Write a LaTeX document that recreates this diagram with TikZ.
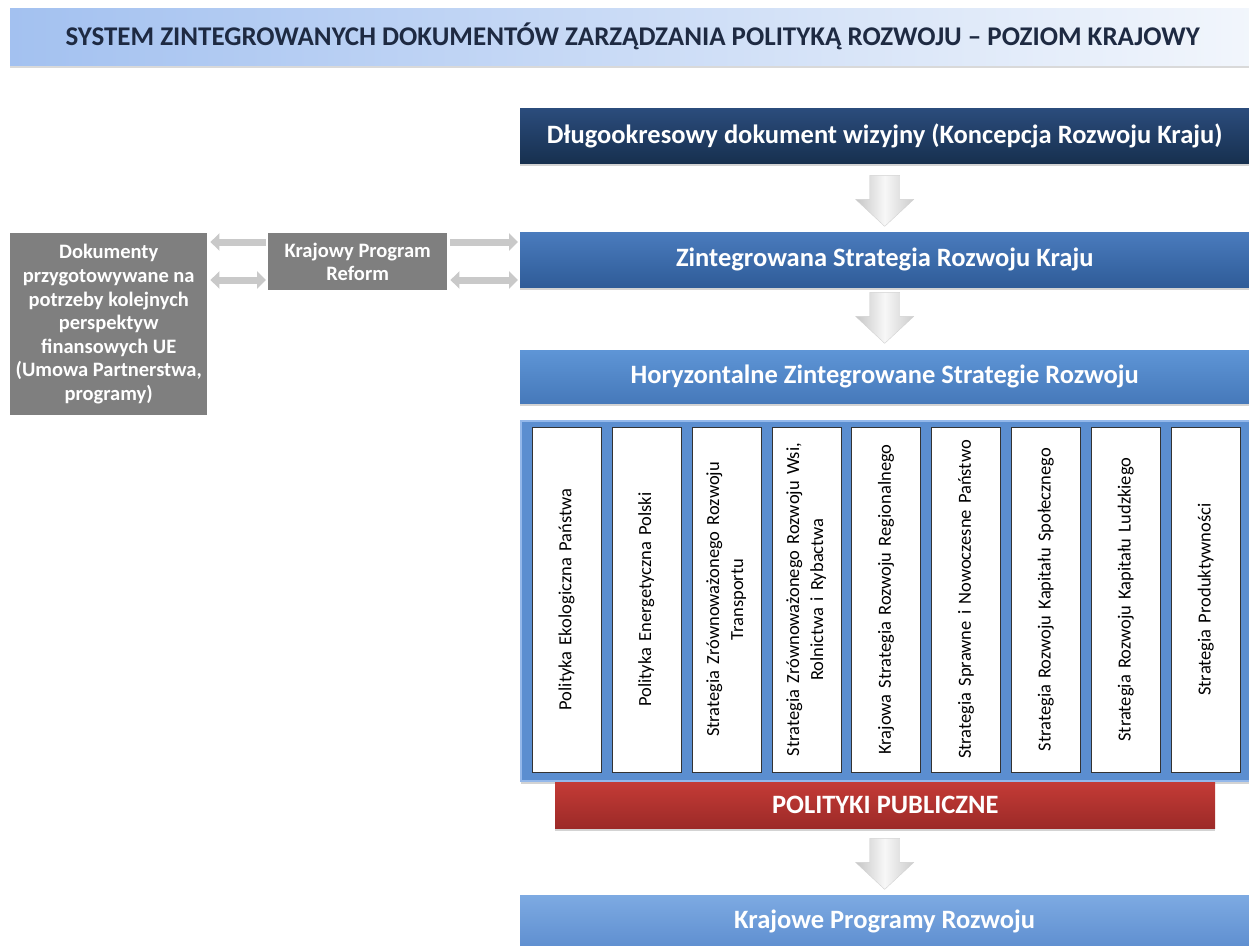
\documentclass[tikz,border=0pt]{standalone}
\usepackage{fontspec}
\setmainfont{Carlito}
\usetikzlibrary{shadows,arrows.meta}

\definecolor{titleblue}{HTML}{A3C1F0}
\definecolor{titlewhite}{HTML}{F2F6FC}
\definecolor{titletext}{HTML}{1E2A42}
\definecolor{navytop}{HTML}{2B4C7C}
\definecolor{navybot}{HTML}{17304F}
\definecolor{midtop}{HTML}{4A7BBD}
\definecolor{midbot}{HTML}{2F5C98}
\definecolor{lighttop}{HTML}{5E95D6}
\definecolor{lightbot}{HTML}{4679BA}
\definecolor{palettop}{HTML}{7DAAE2}
\definecolor{palebot}{HTML}{5F8FD0}
\definecolor{panelblue}{HTML}{5B8ED0}
\definecolor{panelrim}{HTML}{94B8EA}
\definecolor{redtop}{HTML}{C43B36}
\definecolor{redbot}{HTML}{9C2A28}
\definecolor{boxgrey}{HTML}{7F7F7F}
\definecolor{arrowgrey}{HTML}{C9C9C9}

\begin{document}
\begin{tikzpicture}[x=1pt, y=-1pt]
\tikzset{band/.style={anchor=north west, minimum width=729pt, minimum height=55pt, inner sep=0pt,
  text=white, font=\fontsize{26.5}{30}\selectfont\bfseries,
  drop shadow={opacity=.35, shadow xshift=0pt, shadow yshift=-3pt}}}
\tikzset{greybox/.style={anchor=north west, fill=boxgrey, text=white, align=center, inner sep=0pt,
  font=\fontsize{20.5}{23.6}\selectfont\bfseries}}
\tikzset{flowarrow/.pic={
  \path[draw=gray!35, line width=.4pt, left color=gray!45, right color=gray!40, middle color=gray!6]
    (-15,0) -- (15,0) -- (15,24) -- (29,24) -- (0,51) -- (-29,24) -- (-15,24) -- cycle;}}
\tikzset{sidearrow/.style={draw=arrowgrey, line width=7pt, >={Triangle[length=9pt, width=17pt]},
  shorten <=3pt, shorten >=2pt}}
\tikzset{column/.style={rotate=90, draw=black!80, fill=white, minimum width=345pt, minimum height=69pt,
  inner sep=0pt, align=center, text width=340pt, font=\fontsize{18.5}{24}\selectfont}}

\useasboundingbox (0,0) rectangle (1249,945);

% naglowek
\node[anchor=north west, minimum width=1245pt, minimum height=57pt, left color=titleblue, right color=titlewhite,
  text=titletext, font=\fontsize{27}{31}\selectfont\bfseries,
  drop shadow={opacity=.3, shadow xshift=0pt, shadow yshift=-3pt}] (title) at (10,8)
  {SYSTEM ZINTEGROWANYCH DOKUMENTÓW ZARZĄDZANIA POLITYKĄ ROZWOJU – POZIOM KRAJOWY};

% glowny ciag
\node[band, top color=navytop, bottom color=navybot] (dlugo) at (520,108)
  {Długookresowy dokument wizyjny (Koncepcja Rozwoju Kraju)};
\node[band, top color=midtop, bottom color=midbot] (zsrk) at (520,232)
  {Zintegrowana Strategia Rozwoju Kraju};
\node[band, minimum height=53pt, top color=lighttop, bottom color=lightbot] (horyz) at (520,350)
  {Horyzontalne Zintegrowane Strategie Rozwoju};
\pic at ([yshift=-12pt]dlugo.south) {flowarrow};
\pic at ([yshift=-5pt]zsrk.south) {flowarrow};

% strategie
\node[anchor=north west, fill=panelblue, draw=panelrim, line width=2pt, minimum width=729pt,
  minimum height=360pt, inner sep=0pt,
  drop shadow={opacity=.35, shadow xshift=0pt, shadow yshift=-3pt}] (panel) at (520,420) {};
\foreach \i/\txt in {1/{Polityka Ekologiczna Państwa},
                     2/{Polityka Energetyczna Polski},
                     3/{Strategia Zrównoważonego Rozwoju\\Transportu},
                     4/{Strategia Zrównoważonego Rozwoju Wsi,\\Rolnictwa i Rybactwa},
                     5/{Krajowa Strategia Rozwoju Regionalnego},
                     6/{Strategia Sprawne i Nowoczesne Państwo},
                     7/{Strategia Rozwoju Kapitału Społecznego},
                     8/{Strategia Rozwoju Kapitału Ludzkiego},
                     9/{Strategia Produktywności}}
  \node[column] (col\i) at ({566.5+79.9*(\i-1)},599.5) {\txt};

\node[anchor=north west, minimum width=660pt, minimum height=46pt, inner sep=0pt,
  top color=redtop, bottom color=redbot, text=white, font=\fontsize{26.5}{30}\selectfont\bfseries,
  drop shadow={opacity=.35, shadow xshift=0pt, shadow yshift=-3pt}] (polityki) at (555,782)
  {POLITYKI PUBLICZNE};
\node[band, minimum height=52pt, top color=palettop, bottom color=palebot] (programy) at (520,895)
  {Krajowe Programy Rozwoju};
\pic at ([yshift=-10pt]polityki.south -| programy.south) {flowarrow};

% lewa strona
\node[greybox, minimum width=197pt, minimum height=182pt] (dok) at (10,233)
  {Dokumenty\\przygotowywane na\\potrzeby kolejnych\\perspektyw\\finansowych UE\\(Umowa Partnerstwa,\\programy)};
\node[greybox, minimum width=179pt, minimum height=57pt] (kpr) at (268,233)
  {Krajowy Program\\Reform};

\coordinate (hi) at (0,242);
\coordinate (lo) at (0,280);
\draw[sidearrow, <-] (dok.east |- hi) -- (kpr.west |- hi);
\draw[sidearrow, <->] (dok.east |- lo) -- (kpr.west |- lo);
\draw[sidearrow, ->] (kpr.east |- hi) -- (zsrk.west |- hi);
\draw[sidearrow, <->] (kpr.east |- lo) -- (zsrk.west |- lo);
\end{tikzpicture}
\end{document}
